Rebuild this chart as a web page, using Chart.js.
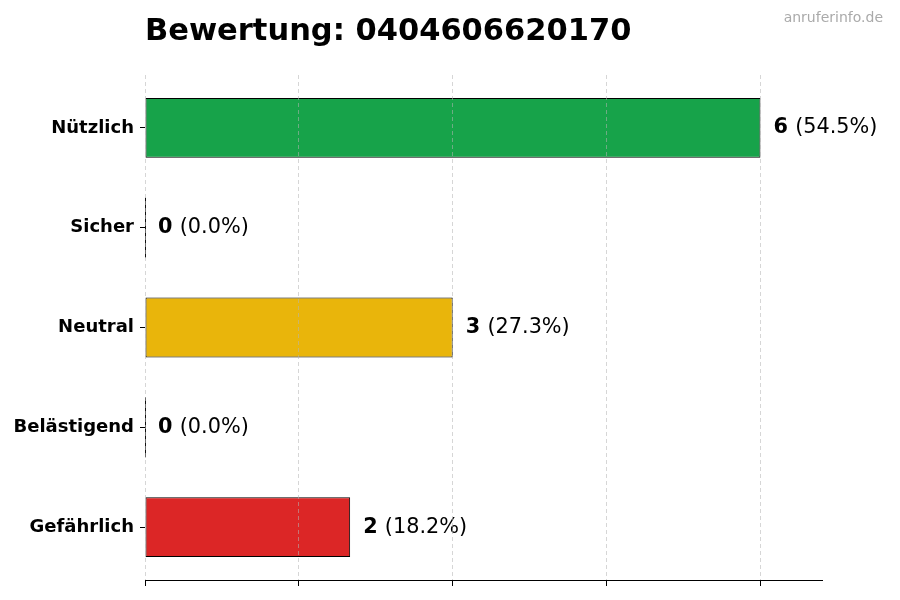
<!DOCTYPE html>
<html lang="de">
<head>
<meta charset="utf-8">
<title>Bewertung: 0404606620170</title>
<script src="https://cdn.jsdelivr.net/npm/chart.js@4/dist/chart.umd.min.js"></script>
<style>
  html, body { margin: 0; padding: 0; background: #fff; }
  #wrap { width: 900px; height: 600px; position: relative; }
</style>
</head>
<body>
<div id="wrap"><canvas id="ratingChart"></canvas></div>
<script>
// Chart data.
const categories = ["Nützlich", "Sicher", "Neutral", "Belästigend", "Gefährlich"];
const counts = [6, 0, 3, 0, 2];
const percents = ["54.5", "0.0", "27.3", "0.0", "18.2"];
const barColors = ["#17a34a", "#16a34a", "#e9b50b", "#ea580c", "#dc2626"];
const xTickStep = 1.5;
const xMax = 6.6;

const FONT = "'DejaVu Sans', 'Liberation Sans', sans-serif";

/**
 * barExtras draws the edge line of zero-width bars, the value labels and the watermark.
 */
const barExtras = {
  id: "barExtras",
  afterDatasetsDraw(chart) {
    const ctx = chart.ctx;
    const meta = chart.getDatasetMeta(0);
    ctx.save();
    meta.data.forEach((bar, i) => {
      const h = bar.height;
      // Zero bars: matplotlib still draws their edge.
      if (counts[i] === 0) {
        ctx.strokeStyle = "#111";
        ctx.lineWidth = 1;
        ctx.beginPath();
        ctx.moveTo(Math.round(bar.base) + 0.5, bar.y - h / 2);
        ctx.lineTo(Math.round(bar.base) + 0.5, bar.y + h / 2);
        ctx.stroke();
      }
      const x = Math.max(bar.x, bar.base) + 13;
      ctx.fillStyle = "#000";
      ctx.textBaseline = "middle";
      ctx.textAlign = "left";
      ctx.font = "bold 20.8px " + FONT;
      const bold = String(counts[i]);
      ctx.fillText(bold, x, bar.y);
      const w = ctx.measureText(bold + " ").width;
      ctx.font = "20.8px " + FONT;
      ctx.fillText("(" + percents[i] + "%)", x + w, bar.y);
    });
    ctx.restore();
  },
  afterDraw(chart) {
    const ctx = chart.ctx;
    ctx.save();
    ctx.font = "14px " + FONT;
    ctx.fillStyle = "#aaaaaa";
    ctx.textAlign = "right";
    ctx.textBaseline = "alphabetic";
    ctx.fillText("anruferinfo.de", 883, 22);
    ctx.restore();
  }
};

const ctx = document.getElementById("ratingChart").getContext("2d");
new Chart(ctx, {
  type: "bar",
  data: {
    datasets: [{
      data: categories.map((c, i) => ({ x: counts[i], y: i })),
      backgroundColor: barColors,
      borderColor: "#000",
      borderWidth: 1,
      borderSkipped: false,
      barPercentage: 0.6,
      categoryPercentage: 1
    }]
  },
  options: {
    indexAxis: "y",
    responsive: true,
    maintainAspectRatio: false,
    animation: false,
    layout: { padding: { top: 0, right: 78, bottom: 0, left: 0 } },
    plugins: {
      legend: { display: false },
      tooltip: { enabled: false },
      title: {
        display: true,
        text: "Bewertung: 0404606620170",
        align: "start",
        fullSize: false,
        color: "#000",
        font: { family: FONT, size: 30.5, weight: "bold" },
        padding: { top: 14, bottom: 24.4 }
      }
    },
    scales: {
      x: {
        type: "linear",
        min: 0,
        max: xMax,
        afterFit: s => { s.height = 20; },
        ticks: { stepSize: xTickStep, includeBounds: false, display: false },
        grid: {
          color: "rgba(180,180,180,0.55)",
          lineWidth: 1,
          z: 1,
          drawTicks: true,
          tickLength: 6,
          tickColor: "#000",
          tickWidth: 1
        },
        border: { display: true, color: "#000", width: 1, dash: [4, 3], z: 1 }
      },
      y: {
        type: "linear",
        min: -0.53,
        max: 4.53,
        reverse: true,
        offset: false,
        afterFit: s => { s.width = 145; },
        ticks: {
          stepSize: 1,
          includeBounds: false,
          autoSkip: false,
          padding: 6,
          color: "#000",
          font: { family: FONT, size: 18, weight: "bold" },
          callback: v => (Number.isInteger(v) ? categories[v] : "")
        },
        grid: {
          offset: false,
          drawOnChartArea: false,
          drawTicks: true,
          tickLength: 5,
          tickColor: "#000",
          tickWidth: 1
        },
        border: { display: false }
      }
    }
  },
  plugins: [barExtras]
});
</script>
</body>
</html>
